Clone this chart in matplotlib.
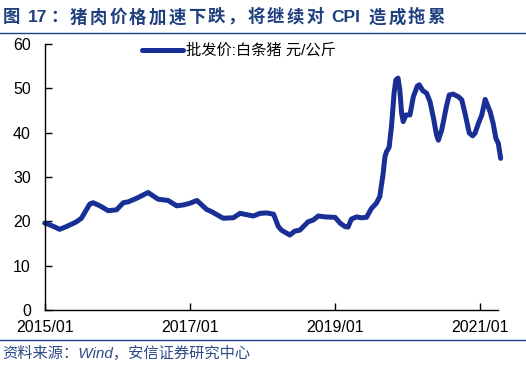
import re
import pandas as pd
import matplotlib.pyplot as plt
import matplotlib.dates as mdates

# 批发价:白条猪 (元/公斤)
dates = ['2015-01-01', '2015-01-11', '2015-02-22', '2015-03-17', '2015-04-20', '2015-06-10',
         '2015-07-05', '2015-08-16', '2015-09-02', '2015-10-06', '2015-11-17', '2015-12-29',
         '2016-02-01', '2016-02-26', '2016-04-08', '2016-06-05', '2016-07-25', '2016-09-14',
         '2016-10-27', '2016-11-30', '2017-01-03', '2017-02-06', '2017-03-26', '2017-04-20',
         '2017-06-18', '2017-08-08', '2017-09-11', '2017-11-17', '2017-12-21', '2018-01-24',
         '2018-02-27', '2018-03-22', '2018-04-08', '2018-05-20', '2018-06-14', '2018-07-09',
         '2018-08-20', '2018-09-15', '2018-10-10', '2018-11-13', '2019-01-03', '2019-01-28',
         '2019-02-22', '2019-03-09', '2019-03-26', '2019-04-21', '2019-05-16', '2019-06-10',
         '2019-07-05', '2019-07-30', '2019-08-16', '2019-09-02', '2019-09-11', '2019-09-19',
         '2019-10-02', '2019-10-14', '2019-10-27', '2019-11-05', '2019-11-16', '2019-11-25',
         '2019-12-04', '2019-12-12', '2019-12-26', '2020-01-15', '2020-02-01', '2020-02-21',
         '2020-03-02', '2020-03-19', '2020-04-08', '2020-04-25', '2020-05-11', '2020-05-28',
         '2020-06-06', '2020-06-23', '2020-07-18', '2020-07-31', '2020-08-20', '2020-09-15',
         '2020-10-02', '2020-10-18', '2020-11-09', '2020-11-26', '2020-12-08', '2020-12-25',
         '2021-01-11', '2021-01-28', '2021-02-22', '2021-03-09', '2021-03-23', '2021-04-04',
         '2021-04-16']
price = [19.6, 19.5, 18.7, 18.2, 18.8, 19.9,
         20.7, 23.9, 24.2, 23.5, 22.4, 22.6,
         24.2, 24.4, 25.2, 26.5, 25.0, 24.7,
         23.5, 23.7, 24.1, 24.7, 22.7, 22.2,
         20.7, 20.8, 21.8, 21.2, 21.8, 21.9,
         21.6, 18.9, 18.0, 16.9, 17.8, 18.0,
         19.9, 20.3, 21.2, 21.0, 20.9, 19.6,
         18.8, 18.7, 20.5, 21.0, 20.8, 20.9,
         22.9, 24.1, 25.6, 30.8, 34.6, 35.7,
         36.7, 41.4, 48.9, 51.9, 52.3, 49.6,
         44.4, 42.5, 44.0, 44.0, 48.1, 50.5,
         50.8, 49.5, 48.9, 47.0, 43.6, 39.5,
         38.3, 40.6, 46.2, 48.5, 48.7, 48.1,
         47.4, 44.4, 39.9, 39.3, 39.9, 42.1,
         44.0, 47.5, 44.7, 42.1, 38.7, 37.6,
         34.2]
xticks = ['2015-01-01', '2017-01-01', '2019-01-01', '2021-01-01']
yticks = [0, 10, 20, 30, 40, 50, 60]

title = '图 17：猪肉价格加速下跌，将继续对 CPI 造成拖累'
label = '批发价:白条猪 元/公斤'
source = '资料来源：Wind，安信证券研究中心'

fam = ['Liberation Sans', 'Noto Sans CJK SC', 'DejaVu Sans']
plt.rcParams['font.family'] = fam

W, H = 526, 366
fig = plt.figure(figsize=(W / 100, H / 100), dpi=100)
ax = fig.add_axes([44.7 / W, 1 - 310 / H, (497.7 - 44.7) / W, (310 - 44) / H])

x = pd.to_datetime(dates)
ax.plot(x, price, color='#1a2f96', lw=3.6, label=label, clip_on=False,
        solid_joinstyle='round', solid_capstyle='round')

ax.set_xlim(pd.Timestamp('2015-01-01'), pd.Timestamp('2021-04-01'))
ax.set_ylim(0, 60)
ax.set_yticks(yticks)
ax.set_xticks(pd.to_datetime(xticks))
ax.xaxis.set_major_formatter(mdates.DateFormatter('%Y/%m'))
ax.tick_params(direction='in', length=5, width=1, labelsize=11.5, colors='black')
ax.tick_params(axis='y', pad=10)
ax.tick_params(axis='x', pad=7)
for s in ['top', 'right']:
    ax.spines[s].set_visible(False)
for s in ['left', 'bottom']:
    ax.spines[s].set_linewidth(1)

ax.legend(loc='center left', bbox_to_anchor=(142 / W, 1 - 50.7 / H),
          bbox_transform=fig.transFigure, frameon=False, fontsize=11,
          handlelength=2.7, handletextpad=0.15, borderpad=0, borderaxespad=0)

# title drawn piece by piece so the CJK characters get the wide spacing of the original
renderer = fig.canvas.get_renderer()
tokens = re.findall(r'[A-Za-z0-9]+|.', title)
widths = []
pieces = []
for tok in tokens:
    t = fig.text(0, 1 - 17 / H, tok, fontsize=12.5, fontweight='bold',
                 color='#1f3f7f', va='center', ha='left')
    pieces.append(t)
    widths.append(t.get_window_extent(renderer).width if tok != ' ' else 3.0)
extra = (445 - 3 - sum(widths)) / (len(tokens) - 1)
px = 3.0
for t, w in zip(pieces, widths):
    t.set_x(px / W)
    px += w + extra

fig.add_artist(plt.Line2D([0, 1], [1 - 33 / H, 1 - 33 / H], color='#1f3f8a', lw=1))
fig.add_artist(plt.Line2D([0, 1], [1 - 340 / H, 1 - 340 / H], color='#1f3f8a', lw=1))
fig.text(2 / W, 1 - 353 / H, source, fontsize=11, style='italic',
         color='#2e4a86', va='center', ha='left')

fig.savefig('out.png', dpi=100)
